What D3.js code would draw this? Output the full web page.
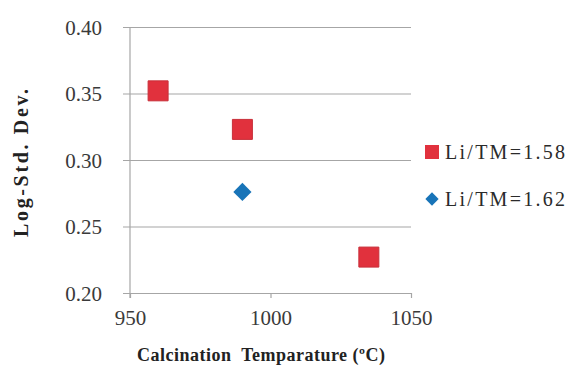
<!DOCTYPE html>
<html>
<head>
<meta charset="utf-8">
<script src="https://cdn.jsdelivr.net/npm/d3@7"></script>
<style>
  html, body { margin: 0; padding: 0; background: #fff; }
  svg { display: block; }
  text { font-family: "Liberation Serif", "Times New Roman", serif; }
</style>
</head>
<body>
<svg id="chart" width="570" height="367"></svg>
<script>
// Log standard deviation of particle size vs calcination temperature
const tempA = [960, 990, 1035];
const devA = [0.352, 0.323, 0.227];
const tempB = [990];
const devB = [0.276];
const seriesNames = ["Li/TM=1.58", "Li/TM=1.62"];
const xTicks = [950, 1000, 1050];
const yTicks = [0.20, 0.25, 0.30, 0.35, 0.40];

const red = "#e1313d", redEdge = "#c8303a", blue = "#1874b8";
const grid = "#a6a6a6";

const svg = d3.select("#chart");
const x = d3.scaleLinear().domain([950, 1050]).range([130, 411]);
const y = d3.scaleLinear().domain([0.20, 0.40]).range([293, 27]);

// horizontal gridlines via y axis
const yAxis = d3.axisLeft(y).tickValues(yTicks).tickSize(-(x.range()[1] - x.range()[0])).tickFormat(d3.format(".2f")).tickPadding(0);
const gy = svg.append("g").attr("transform", `translate(${x.range()[0]},0)`).call(yAxis);
gy.attr("font-family", null);
gy.select(".domain").remove();
gy.selectAll(".tick line").attr("stroke", grid).attr("x1", -7).attr("stroke-width", 1.2);
gy.selectAll(".tick text")
  .attr("x", -28).attr("dy", "0.34em")
  .attr("font-size", 21).attr("fill", "#3a3a3a")
  .attr("text-anchor", "end");

// vertical axis line
svg.append("line")
  .attr("x1", x(950)).attr("x2", x(950))
  .attr("y1", y(0.40)).attr("y2", y(0.20) + 5)
  .attr("stroke", grid).attr("stroke-width", 1.2);

// x axis
const xAxis = d3.axisBottom(x).tickValues(xTicks).tickSize(5).tickFormat(d3.format("d")).tickPadding(12);
const gx = svg.append("g").attr("transform", `translate(0,${y(0.20)})`).call(xAxis);
gx.attr("font-family", null);
gx.select(".domain").remove();
gx.selectAll(".tick line").attr("stroke", grid).attr("stroke-width", 1.2);
gx.selectAll(".tick text")
  .attr("font-size", 21).attr("fill", "#3a3a3a");

// series A: squares
svg.append("g").selectAll("path")
  .data(tempA.map((t, i) => [t, devA[i]]))
  .join("path")
  .attr("d", d3.symbol(d3.symbolSquare, 400)())
  .attr("transform", d => `translate(${x(d[0])},${y(d[1])})`)
  .attr("fill", red).attr("stroke", redEdge).attr("stroke-width", 1);

// series B: diamonds
svg.append("g").selectAll("path")
  .data(tempB.map((t, i) => [t, devB[i]]))
  .join("path")
  .attr("d", d3.symbol(d3.symbolSquare, 165)())
  .attr("transform", d => `translate(${x(d[0])},${y(d[1])}) rotate(45)`)
  .attr("fill", blue);

// legend
const legend = svg.append("g");
const legendRows = [
  { name: seriesNames[0], cy: 152, shape: d3.symbol(d3.symbolSquare, 196)(), rot: 0, fill: red },
  { name: seriesNames[1], cy: 199, shape: d3.symbol(d3.symbolSquare, 88)(), rot: 45, fill: blue }
];
legendRows.forEach(r => {
  legend.append("path").attr("d", r.shape)
    .attr("transform", `translate(432,${r.cy}) rotate(${r.rot})`)
    .attr("fill", r.fill);
  legend.append("text").text(r.name)
    .attr("x", 445).attr("y", r.cy + 7)
    .attr("font-size", 20).attr("fill", "#2a2a2a")
    .attr("textLength", 120).attr("lengthAdjust", "spacing");
});

// axis titles
svg.append("text").text("Calcination  Temparature (ºC)")
  .attr("x", 137).attr("y", 361)
  .attr("font-size", 18).attr("font-weight", "bold").attr("fill", "#222")
  .attr("textLength", 248).attr("lengthAdjust", "spacing")
  .style("white-space", "pre");

svg.append("text").text("Log-Std. Dev.")
  .attr("transform", "translate(28,237) rotate(-90)")
  .attr("font-size", 20).attr("font-weight", "bold").attr("fill", "#222")
  .attr("textLength", 148).attr("lengthAdjust", "spacing");
</script>
</body>
</html>
